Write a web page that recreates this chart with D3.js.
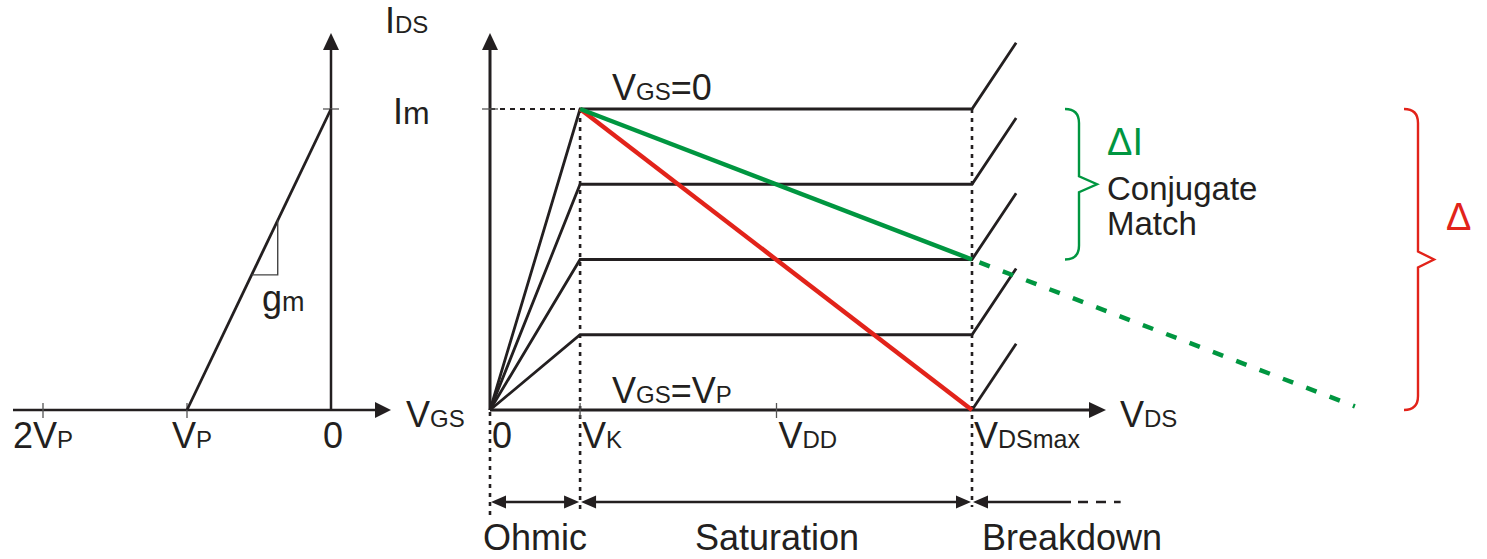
<!DOCTYPE html>
<html>
<head>
<meta charset="utf-8">
<script src="https://cdn.jsdelivr.net/npm/d3@7"></script>
<style>
  html, body { margin: 0; padding: 0; background: #fff; }
  svg { display: block; font-family: "Liberation Sans", Arial, sans-serif; }
</style>
</head>
<body>
<svg id="chart" width="1487" height="559"></svg>
<script>
// ---- Data (currents as fraction of Im, voltages in units of VK) ----
const vgsLevels = [1, 0.75, 0.5, 0.25, 0];      // I/Im of each VGS curve
const vK = 1;                                   // knee voltage
const vDD = 3.18;                               // supply voltage
const vDSmax = 5.35;                            // breakdown voltage
const breakdownRise = [0.49, 0.22];             // [dVDS, dI] of breakdown kink
const conjugateLine = [[1, 1], [5.35, 0.5]];    // green load line (solid)
const conjugateExt = [[5.35, 0.5], [9.6, 0.012]]; // green load line (dashed)
const optimumLine = [[1, 1], [5.35, 0]];        // red load line
const transferLine = [[-1, 0], [0, 1]];         // IDS vs VGS, VP = -1
const gmTriangle = [[-0.551, 0.449], [-0.37, 0.449], [-0.37, 0.63]];
const vgsTicks = [
  { v: -2, parts: [["2V", 36], ["P", 24]], dx: -30 },
  { v: -1, parts: [["V", 36], ["P", 24]], dx: -15 },
  { v: 0,  parts: [["0", 36]], dx: -8 }
];
const vdsTicks = [
  { v: 0,      parts: [["0", 36]], tick: false },
  { v: vK,     parts: [["V", 36], ["K", 24]], tick: true },
  { v: vDD,    parts: [["V", 36], ["DD", 24]], tick: true },
  { v: vDSmax, parts: [["V", 36], ["DSmax", 25]], tick: false }
];
const regions = [
  { from: 0, to: vK, label: "Ohmic", lx: 483 },
  { from: vK, to: vDSmax, label: "Saturation", lx: 695 },
  { from: vDSmax, to: 7.0, label: "Breakdown", lx: 982, open: true }
];

// ---- Styles ----
const ink = "#231f20";
const green = "#009640";
const red = "#e2231a";

const svg = d3.select("#chart");

// ---- Scales ----
const y = d3.scaleLinear().domain([0, 1]).range([410, 109]);
const x = d3.scaleLinear().domain([0, vDSmax]).range([490, 972]);
const xL = d3.scaleLinear().domain([-2, 0]).range([43, 331]);
const line = d3.line().x(d => x(d[0])).y(d => y(d[1]));
const lineL = d3.line().x(d => xL(d[0])).y(d => y(d[1]));

// text helper: big letter followed by smaller "subscript" letters on one baseline
function label(px, py, parts, color) {
  const t = svg.append("text").attr("x", px).attr("y", py).attr("fill", color || ink);
  parts.forEach(p => t.append("tspan").attr("font-size", p[1]).text(p[0]));
  return t;
}

function arrowHead(px, py, dir, len, half) {
  let pts;
  if (dir === "up") pts = [[px, py], [px - half, py + len], [px + half, py + len]];
  else if (dir === "right") pts = [[px, py], [px - len, py - half], [px - len, py + half]];
  else pts = [[px, py], [px + len, py - half], [px + len, py + half]];
  svg.append("path").attr("d", "M" + pts.join("L") + "Z").attr("fill", ink);
}

// ================= Left panel: transfer characteristic =================
const gL = svg.append("g");
gL.append("line").attr("x1", 13).attr("x2", 376).attr("y1", y(0)).attr("y2", y(0))
  .attr("stroke", ink).attr("stroke-width", 2.5);
arrowHead(391, y(0), "right", 16, 8);
gL.append("line").attr("x1", xL(0)).attr("x2", xL(0)).attr("y1", y(0)).attr("y2", 49)
  .attr("stroke", ink).attr("stroke-width", 2.5);
arrowHead(xL(0), 33, "up", 17, 8);
[-2, -1].forEach(v => {
  gL.append("line").attr("x1", xL(v)).attr("x2", xL(v)).attr("y1", y(0) - 7).attr("y2", y(0) + 8)
    .attr("stroke", "#555").attr("stroke-width", 1.3);
});
gL.append("line").attr("x1", xL(0) - 8).attr("x2", xL(0) + 8).attr("y1", y(1)).attr("y2", y(1))
  .attr("stroke", "#555").attr("stroke-width", 1.3);
vgsTicks.forEach(t => label(xL(t.v) + t.dx, 448, t.parts));
label(406, 427, [["V", 36], ["GS", 24]]);
gL.append("path").attr("d", lineL(transferLine)).attr("fill", "none")
  .attr("stroke", ink).attr("stroke-width", 2.8);
gL.append("path").attr("d", lineL(gmTriangle)).attr("fill", "none")
  .attr("stroke", "#444").attr("stroke-width", 1.4);
label(262, 311, [["g", 36], ["m", 27]]);

// ================= Right panel: output characteristic =================
const gR = svg.append("g");
gR.append("line").attr("x1", x(0)).attr("x2", x(vK)).attr("y1", y(1)).attr("y2", y(1))
  .attr("stroke", ink).attr("stroke-width", 2).attr("stroke-dasharray", "5,5");
[[0, 516], [vK, 510], [vDSmax, 507]].forEach(([v, yEnd]) => {
  gR.append("line").attr("x1", x(v)).attr("x2", x(v))
    .attr("y1", v === 0 ? y(0) + 2 : y(1)).attr("y2", yEnd)
    .attr("stroke", ink).attr("stroke-width", 2.6).attr("stroke-dasharray", "4,5");
});

gR.append("line").attr("x1", x(0)).attr("x2", 1090).attr("y1", y(0)).attr("y2", y(0))
  .attr("stroke", ink).attr("stroke-width", 2.8);
arrowHead(1106, y(0), "right", 17, 8);
gR.append("line").attr("x1", x(0)).attr("x2", x(0)).attr("y1", y(0)).attr("y2", 49)
  .attr("stroke", ink).attr("stroke-width", 3);
arrowHead(x(0), 33, "up", 17, 8);
gR.append("line").attr("x1", x(0) - 8).attr("x2", x(0) + 8).attr("y1", y(1)).attr("y2", y(1))
  .attr("stroke", "#555").attr("stroke-width", 1.3);
vdsTicks.forEach(t => {
  if (t.tick) gR.append("line").attr("x1", x(t.v)).attr("x2", x(t.v))
    .attr("y1", y(0) - 7).attr("y2", y(0) + 8).attr("stroke", "#555").attr("stroke-width", 1.3);
  label(x(t.v) + 2, 448, t.parts);
});
label(1120, 427, [["V", 36], ["DS", 24]]);
label(385, 33, [["I", 36], ["DS", 24]]);
label(393, 124, [["I", 36], ["m", 32]]);

// VGS curves: ohmic rise, saturation plateau, breakdown kink
vgsLevels.forEach(lv => {
  const pts = lv > 0
    ? [[0, 0], [vK, lv], [vDSmax, lv], [vDSmax + breakdownRise[0], lv + breakdownRise[1]]]
    : [[vDSmax, 0], [vDSmax + breakdownRise[0], breakdownRise[1]]];
  gR.append("path").attr("d", line(pts)).attr("fill", "none")
    .attr("stroke", ink).attr("stroke-width", 2.8).attr("stroke-linejoin", "miter");
});
label(612, 100, [["V", 36], ["GS", 24], ["=0", 36]]);
label(612, 403, [["V", 36], ["GS", 24], ["=V", 36], ["P", 24]]);

// load lines
gR.append("path").attr("d", line(optimumLine)).attr("fill", "none")
  .attr("stroke", red).attr("stroke-width", 4.5);
gR.append("path").attr("d", line(conjugateLine)).attr("fill", "none")
  .attr("stroke", green).attr("stroke-width", 4.5);
gR.append("path").attr("d", line(conjugateExt)).attr("fill", "none")
  .attr("stroke", green).attr("stroke-width", 4.5).attr("stroke-dasharray", "11,14")
  .attr("stroke-dashoffset", -8);

// region arrows
const yArr = 502;
regions.forEach(r => {
  const a = x(r.from), b = x(r.to);
  if (r.open) {
    gR.append("line").attr("x1", a + 10).attr("x2", 1071).attr("y1", yArr).attr("y2", yArr)
      .attr("stroke", ink).attr("stroke-width", 2.6);
    gR.append("line").attr("x1", 1078).attr("x2", b).attr("y1", yArr).attr("y2", yArr)
      .attr("stroke", ink).attr("stroke-width", 2.6).attr("stroke-dasharray", "10,8");
    arrowHead(a + 1, yArr, "left", 15, 6.5);
  } else {
    gR.append("line").attr("x1", a + 10).attr("x2", b - 10).attr("y1", yArr).attr("y2", yArr)
      .attr("stroke", ink).attr("stroke-width", 2.6);
    arrowHead(a + 1, yArr, "left", 15, 6.5);
    arrowHead(b - 1, yArr, "right", 15, 6.5);
  }
  label(r.lx, 550, [[r.label, 36]]);
});

// braces
function brace(xb, y0, y1, hook, tip, color) {
  const ym = (y0 + y1) / 2;
  const d = `M${xb - hook},${y0} Q${xb},${y0} ${xb},${y0 + hook}` +
            `L${xb},${ym - 8} L${xb + tip},${ym} L${xb},${ym + 8}` +
            `L${xb},${y1 - hook} Q${xb},${y1} ${xb - hook},${y1}`;
  svg.append("path").attr("d", d).attr("fill", "none")
    .attr("stroke", color).attr("stroke-width", 2.4);
}
brace(1079, y(conjugateLine[0][1]), y(conjugateLine[1][1]), 14, 18, green);
brace(1418, y(optimumLine[0][1]), y(optimumLine[1][1]), 14, 16, red);
label(1107, 155, [["ΔI", 38]], green);
label(1107, 200, [["Conjugate", 33]]);
label(1107, 235, [["Match", 33]]);
label(1446, 230, [["Δ", 38]], red);
</script>
</body>
</html>
